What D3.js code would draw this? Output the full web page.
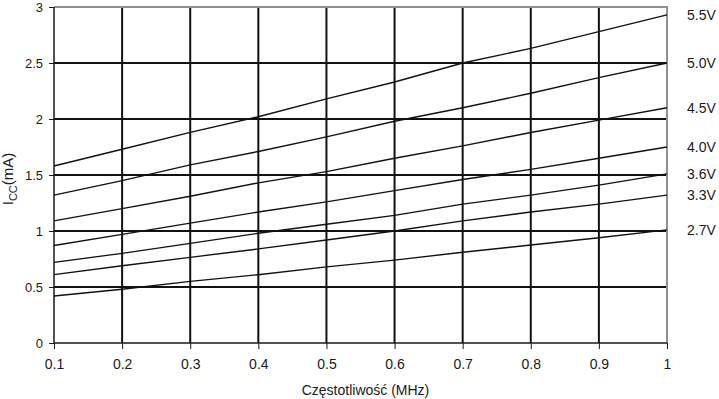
<!DOCTYPE html>
<html lang="pl">
<head>
<meta charset="UTF-8">
<title>Icc vs f</title>
<script src="https://cdn.jsdelivr.net/npm/d3@7"></script>
<style>
  body { margin: 0; background: #fff; }
  text { font-family: "Liberation Sans", Arial, sans-serif; fill: #1a1a22; }
  .axis path, .axis line { stroke: #1a1a1a; }
  .axis text { font-size: 13px; }
  .axis.x text { font-size: 14px; }
</style>
</head>
<body>
<div id="chart"></div>
<script>
var width = 719, height = 399
var margin = {top: 7, right: 52, bottom: 56, left: 54}

// frequency (MHz)
var freq = [0.1, 0.2, 0.3, 0.4, 0.5, 0.6, 0.7, 0.8, 0.9, 1.0]
var xTicks = [0.1, 0.2, 0.3, 0.4, 0.5, 0.6, 0.7, 0.8, 0.9, 1]
var yTicks = [0, 0.5, 1, 1.5, 2, 2.5, 3]

var voltages = ['5.5V', '5.0V', '4.5V', '4.0V', '3.6V', '3.3V', '2.7V']
var icc55 = [1.58, 1.73, 1.88, 2.02, 2.18, 2.33, 2.50, 2.63, 2.78, 2.93]
var icc50 = [1.32, 1.45, 1.59, 1.71, 1.84, 1.98, 2.10, 2.23, 2.37, 2.50]
var icc45 = [1.09, 1.20, 1.31, 1.43, 1.53, 1.65, 1.76, 1.88, 1.99, 2.10]
var icc40 = [0.87, 0.97, 1.07, 1.17, 1.26, 1.36, 1.46, 1.55, 1.65, 1.75]
var icc36 = [0.72, 0.80, 0.89, 0.98, 1.06, 1.14, 1.24, 1.32, 1.41, 1.51]
var icc33 = [0.61, 0.69, 0.765, 0.84, 0.92, 1.00, 1.09, 1.17, 1.24, 1.32]
var icc27 = [0.42, 0.48, 0.55, 0.61, 0.68, 0.74, 0.81, 0.875, 0.94, 1.01]
var series = [icc55, icc50, icc45, icc40, icc36, icc33, icc27]

var svg = d3.select('#chart')
  .append('svg')
  .attr('width', width)
  .attr('height', height)

var xScale = d3.scaleLinear()
  .domain([0.1, 1])
  .range([margin.left, width - margin.right])

var yScale = d3.scaleLinear()
  .domain([0, 3])
  .range([height - margin.bottom, margin.top])

// grid
svg.append('g')
  .selectAll('line')
  .data(yTicks.filter(function(d){ return d > 0 && d < 3 }))
  .enter().append('line')
  .attr('x1', xScale(0.1)).attr('x2', xScale(1))
  .attr('y1', function(d){ return yScale(d) })
  .attr('y2', function(d){ return yScale(d) })
  .attr('stroke', '#111').attr('stroke-width', 2)

svg.append('g')
  .selectAll('line')
  .data(xTicks.filter(function(d){ return d > 0.1 && d < 1 }))
  .enter().append('line')
  .attr('y1', yScale(0)).attr('y2', yScale(3))
  .attr('x1', function(d){ return xScale(d) })
  .attr('x2', function(d){ return xScale(d) })
  .attr('stroke', '#111').attr('stroke-width', 2)

// grey frame top + right
svg.append('path')
  .attr('d', 'M' + xScale(0.1) + ',' + yScale(3) + 'H' + xScale(1) + 'V' + yScale(0))
  .attr('fill', 'none')
  .attr('stroke', '#8e9194')
  .attr('stroke-width', 2)

// axes
var xAxis = d3.axisBottom(xScale).tickValues(xTicks).tickSize(6).tickPadding(10)
  .tickFormat(d3.format('~g'))
var yAxis = d3.axisLeft(yScale).tickValues(yTicks).tickSize(5).tickPadding(6)
  .tickFormat(d3.format('~g'))

svg.append('g')
  .attr('class', 'axis x')
  .attr('transform', 'translate(0,' + yScale(0) + ')')
  .call(xAxis)
  .call(function(g){ g.select('.domain').attr('stroke-width', 1.5).attr('d', 'M' + xScale(0.1) + ',0H' + xScale(1)) })

svg.append('g')
  .attr('class', 'axis y')
  .attr('transform', 'translate(' + xScale(0.1) + ',0)')
  .call(yAxis)
  .call(function(g){ g.select('.domain').attr('stroke-width', 1.5).attr('d', 'M0,' + yScale(3) + 'V' + yScale(0)) })

// curves
var line = d3.line()
  .x(function(d, i){ return xScale(freq[i]) })
  .y(function(d){ return yScale(d) })

svg.append('g')
  .selectAll('path')
  .data(series)
  .enter().append('path')
  .attr('d', line)
  .attr('fill', 'none')
  .attr('stroke', '#111')
  .attr('stroke-width', 1.4)

// voltage labels
svg.append('g')
  .selectAll('text')
  .data(series)
  .enter().append('text')
  .attr('x', xScale(1) + 20)
  .attr('y', function(d){ return yScale(d[d.length - 1]) })
  .attr('dy', '0.35em')
  .style('font-size', '14px')
  .text(function(d, i){ return voltages[i] })

// axis titles
svg.append('text')
  .attr('x', (xScale(0.1) + xScale(1)) / 2 + 5)
  .attr('y', 395)
  .attr('text-anchor', 'middle')
  .style('font-size', '14px')
  .text('Częstotliwość (MHz)')

var yl = svg.append('text')
  .attr('transform', 'translate(13,' + 179 + ') rotate(-90)')
  .attr('text-anchor', 'middle')
  .style('font-size', '15px')
yl.append('tspan').text('I')
yl.append('tspan').attr('dy', 4).style('font-size', '11px').text('CC')
yl.append('tspan').attr('dy', -4).text('(mA)')
</script>
</body>
</html>
